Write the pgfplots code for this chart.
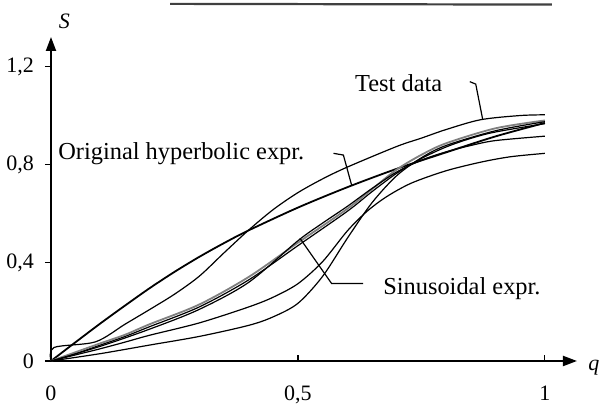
\documentclass[border=0pt]{standalone}
\usepackage{fontspec}
\setmainfont{Liberation Serif}
\usepackage{pgfplots}
\pgfplotsset{compat=1.18}
\usetikzlibrary{arrows.meta}

\begin{document}
\begin{tikzpicture}[font=\fontsize{12.2pt}{14pt}\selectfont]
\begin{axis}[
  scale only axis, width=263pt, height=162pt,
  xmin=0, xmax=1.065, ymin=0, ymax=1.32,
  axis lines=left,
  axis line style={line width=1pt},
  x axis line style={-{Triangle[length=7pt,width=5pt]}},
  y axis line style={-{Triangle[length=7pt,width=5pt]}},
  xtick={0,0.5,1}, xticklabels={0,{0,5},1},
  ytick={0,0.4,0.8,1.2}, yticklabels={0,{0,4},{0,8},{1,2}},
  tick style={black, line width=0.6pt},
  major tick length=3pt,
  ytick align=outside, xtick align=inside,
  tick label style={font=\fontsize{11pt}{13pt}\selectfont},
  yticklabel style={xshift=-2pt},
  xticklabel style={yshift=-9pt},
  clip=false,
]
% Original hyperbolic expression
\addplot[black, line width=0.9pt, smooth] coordinates {
 (0,0) (0.05,0.077) (0.1,0.153) (0.15,0.226) (0.2,0.297) (0.25,0.363) (0.3,0.424)
 (0.35,0.48) (0.4,0.532) (0.5,0.625) (0.6,0.708) (0.7,0.783) (0.8,0.85)
 (0.9,0.915) (1,0.97)};
% Test data (upper S-curve)
\addplot[black, line width=0.6pt, smooth] coordinates {
 (0,0) (0.006,0.055) (0.09,0.078) (0.15,0.15) (0.2,0.21) (0.25,0.272) (0.3,0.345)
 (0.35,0.44) (0.4,0.533) (0.45,0.617) (0.5,0.686) (0.55,0.742) (0.6,0.79)
 (0.7,0.874) (0.75,0.908) (0.8,0.943) (0.87,0.983) (0.95,1.0) (1,1.003)};
% bundle, dark
\addplot[black, line width=0.6pt, smooth] coordinates {
 (0,0) (0.05,0.03) (0.1,0.065) (0.15,0.1) (0.2,0.14) (0.3,0.22) (0.4,0.33)
 (0.5,0.47) (0.6,0.61) (0.65,0.69) (0.7,0.765) (0.75,0.825) (0.8,0.872)
 (0.85,0.907) (0.9,0.933) (1,0.967)};
% bundle, grey
\addplot[black!50, line width=0.9pt, smooth] coordinates {
 (0,0) (0.05,0.036) (0.1,0.072) (0.15,0.107) (0.2,0.15) (0.3,0.23) (0.4,0.342)
 (0.5,0.482) (0.6,0.62) (0.65,0.7) (0.7,0.78) (0.75,0.84) (0.8,0.887)
 (0.9,0.948) (1,0.98)};
% Sinusoidal expression
\addplot[black, line width=0.6pt, smooth] coordinates {
 (0,0) (0.1,0.06) (0.2,0.13) (0.3,0.21) (0.4,0.32) (0.5,0.49) (0.55,0.562)
 (0.6,0.63) (0.65,0.703) (0.7,0.77) (0.75,0.818) (0.8,0.852) (0.85,0.878)
 (0.9,0.898) (1,0.916)};
% steep curve
\addplot[black, line width=0.6pt, smooth] coordinates {
 (0,0) (0.1,0.03) (0.2,0.065) (0.3,0.1) (0.4,0.145) (0.45,0.18) (0.5,0.235)
 (0.55,0.345) (0.6,0.5) (0.65,0.645) (0.7,0.755) (0.75,0.828) (0.8,0.878)
 (0.9,0.938) (1,0.975)};
% lowest-ending curve
\addplot[black, line width=0.6pt, smooth] coordinates {
 (0,0) (0.05,0.025) (0.1,0.05) (0.15,0.077) (0.2,0.105) (0.3,0.155) (0.4,0.22)
 (0.45,0.26) (0.5,0.315) (0.55,0.405) (0.6,0.53) (0.64,0.61) (0.68,0.67)
 (0.73,0.725) (0.8,0.775) (0.87,0.81) (0.93,0.832) (1,0.846)};

% annotations
\node[anchor=base west, inner sep=0pt] at (axis cs:0.014,0.819) {Original hyperbolic expr.};
\draw[line width=0.6pt] (axis cs:0.572,0.846) -- (axis cs:0.592,0.839) -- (axis cs:0.609,0.714);
\node[anchor=base west, inner sep=0pt] at (axis cs:0.615,1.096) {Test data};
\draw[line width=0.6pt] (axis cs:0.848,1.138) -- (axis cs:0.860,1.128) -- (axis cs:0.874,0.985);
\node[anchor=base west, inner sep=0pt] at (axis cs:0.672,0.269) {Sinusoidal expr.};
\draw[line width=0.6pt] (axis cs:0.504,0.50) -- (axis cs:0.568,0.316) -- (axis cs:0.632,0.316);
% axis names
\node[font=\fontsize{11pt}{13pt}\selectfont\itshape] at (axis cs:0.027,1.385) {S};
\node[font=\fontsize{11pt}{13pt}\selectfont\itshape] at (axis cs:1.099,-0.029) {q};
% page rule at top of the scan
\draw[line width=1.1pt, black!75] (axis cs:0.241,1.455) -- (axis cs:1.014,1.452);
\end{axis}
\pgfresetboundingbox
\path (-25.5pt,-24.5pt) rectangle (280pt,180.5pt);
\end{tikzpicture}
\end{document}
